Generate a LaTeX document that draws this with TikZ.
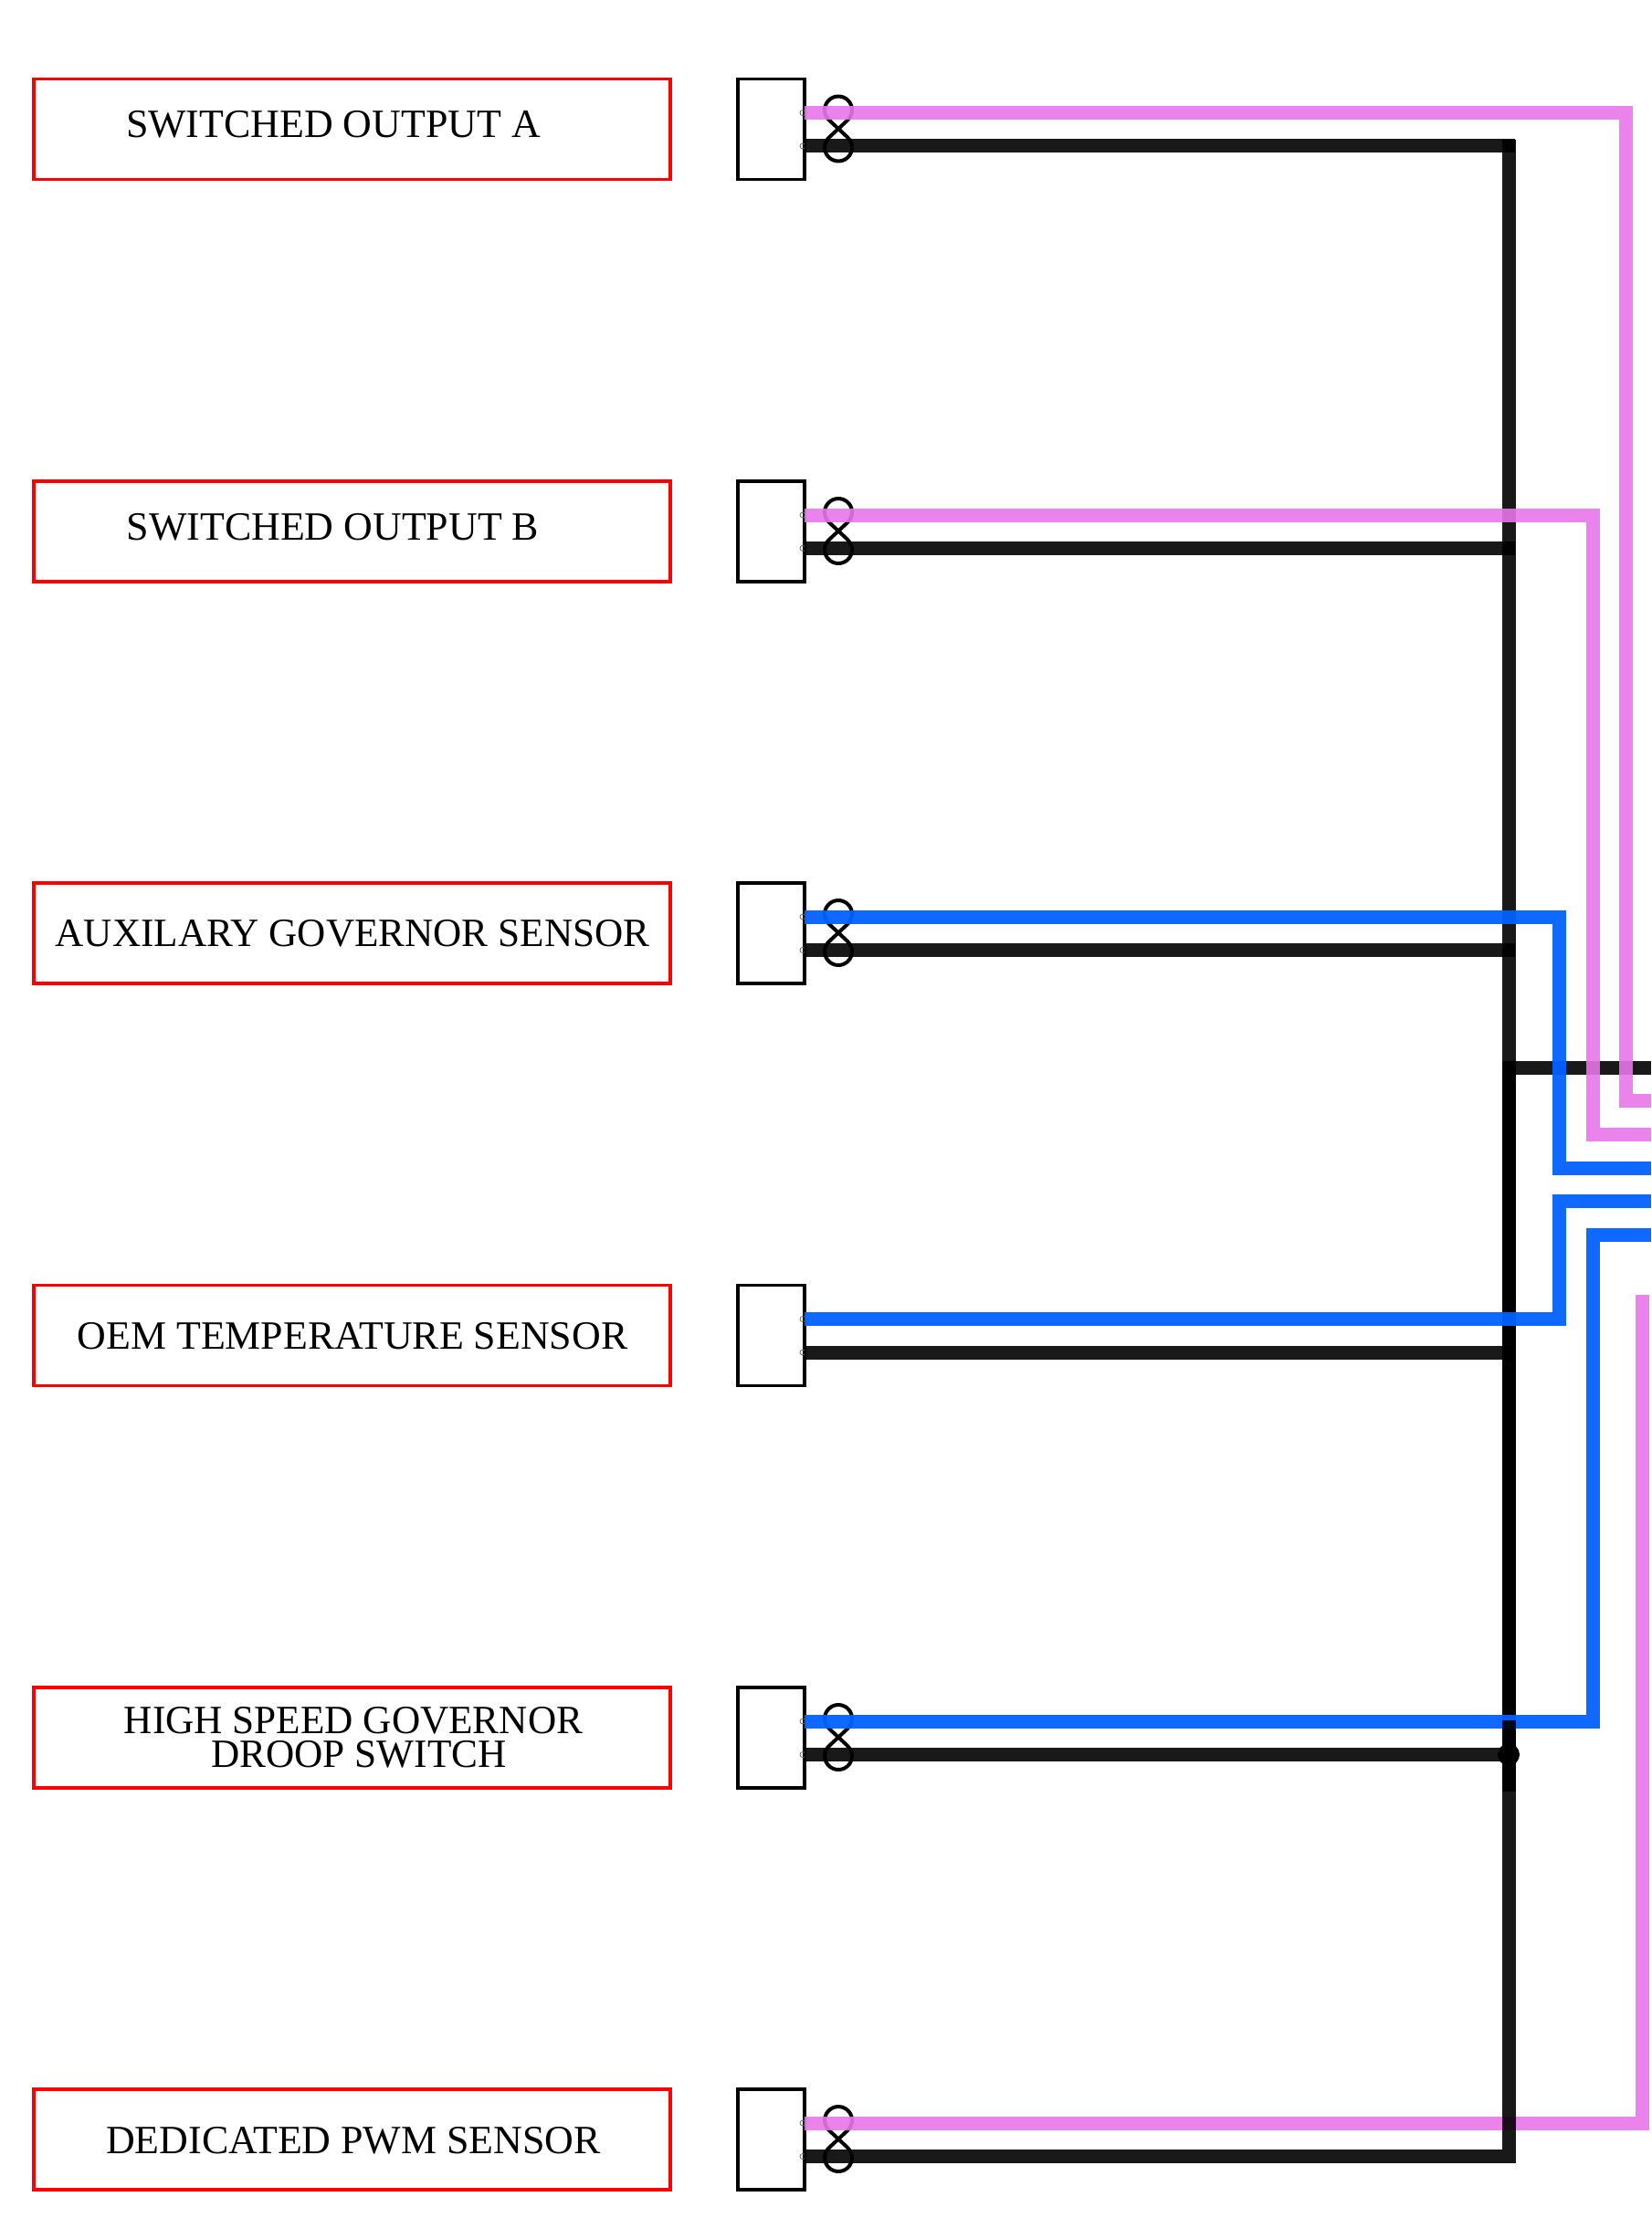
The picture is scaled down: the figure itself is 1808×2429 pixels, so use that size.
\documentclass[tikz,border=0pt]{standalone}
\usepackage{fontspec}
\setmainfont{Liberation Serif}
\usepackage{xcolor}
\usetikzlibrary{positioning}
\definecolor{wirepink}{RGB}{232,118,234}
\definecolor{wireblue}{RGB}{2,97,255}
\tikzset{
	labelbox/.style={draw=red, line width=3.5*0.02cm, minimum width=697*0.02cm, minimum height=110*0.02cm, anchor=north west, inner sep=0, outer sep=0},
	connbox/.style={draw=black, line width=3.5*0.02cm, minimum width=73*0.02cm, minimum height=110*0.02cm, anchor=north west, inner sep=0, outer sep=0},
	labeltext/.style={font=\fontsize{25}{21}\selectfont, align=center, inner sep=0},
	pinkwire/.style={draw=wirepink, draw opacity=0.9, line width=15*0.02cm},
	bluewire/.style={draw=wireblue, draw opacity=0.95, line width=15*0.02cm},
	blackwire/.style={draw=black, draw opacity=0.9, line width=15*0.02cm},
	twistline/.style={draw=black, line width=4*0.02cm},
	pinmark/.style={draw=black!60, line width=0.8*0.02cm}
}
\begin{document}
\begin{tikzpicture}[x=0.02cm, y=-0.02cm]
	\useasboundingbox (0, 0) rectangle (1808, 2429);
	% label boxes and connector bodies
	\foreach \n/\y in {1/86.5, 2/527, 3/967, 4/1407.5, 5/1848, 6/2288}{
		\node[labelbox] (lbl\n) at (37, \y) {};
		\node[connbox] (conn\n) at (808, \y) {};
		\coordinate (sig\n) at (881, \y+37);
		\coordinate (gnd\n) at (881, \y+73.5);
		\coordinate (busgnd\n) at (1659, \y+73.5);
		\draw[pinmark] (sig\n) ++(-2, 0) circle (3);
		\draw[pinmark] (gnd\n) ++(-2, 0) circle (3);
	}
	\node[labeltext] (txt1) at (365, 136) {SWITCHED OUTPUT A};
	\node[labeltext] (txt2) at (364.5, 577) {SWITCHED OUTPUT B};
	\node[labeltext, xscale=0.984] (txt3) at (386, 1022) {AUXILARY GOVERNOR SENSOR};
	\node[labeltext] (txt4) at (386, 1463) {OEM TEMPERATURE SENSOR};
	\node[labeltext, xscale=0.985] (txt5) at (387, 1903) {HIGH SPEED GOVERNOR\\\hspace*{7pt}DROOP SWITCH};
	\node[labeltext] (txt6) at (387, 2344) {DEDICATED PWM SENSOR};
	% twisted pairs
	\foreach \n/\y in {1/86.5, 2/527, 3/967, 5/1848, 6/2288}{
		\draw[twistline] (908.4, \y+45.5) arc[start angle=130, end angle=410, radius=15] -- (908.4, \y+63.5) arc[start angle=230, end angle=-50, radius=15] -- cycle;
	}
	% wire ends
	\coordinate (bustop) at (1652, 153);
	\coordinate (heavytop) at (1652, 1162);
	\coordinate (heavymid) at (1652, 1884);
	\coordinate (heavybottom) at (1652, 1962);
	\coordinate (busdot) at (1652, 1921.5);
	\coordinate (gndout) at (1808, 1169);
	\coordinate (pinkcornerA) at (1780, 1205);
	\coordinate (pinkoutA) at (1808, 1205);
	\coordinate (pinkcornerB) at (1744, 1242);
	\coordinate (pinkoutB) at (1808, 1242);
	\coordinate (bluecornerA) at (1707, 1279);
	\coordinate (blueoutA) at (1808, 1279);
	\coordinate (bluecornerB) at (1707, 1315);
	\coordinate (blueoutB) at (1808, 1315);
	\coordinate (bluecornerC) at (1744, 1352);
	\coordinate (blueoutC) at (1808, 1352);
	\coordinate (pinktop) at (1798, 1418);
	% this one runs under the common line
	\draw[pinkwire] (sig6) -| (pinktop);
	% ground wires
	\draw[blackwire] (gnd6) -| (bustop);
	\foreach \n in {1, 2, 3, 4, 5}{
		\draw[blackwire] (gnd\n) -- (busgnd\n);
	}
	\draw[blackwire] (heavytop) -- (heavymid);
	\draw[blackwire] (heavytop |- gndout) -- (gndout);
	% signal wires
	\draw[pinkwire] (sig1) -| (pinkcornerA) -- (pinkoutA);
	\draw[pinkwire] (sig2) -| (pinkcornerB) -- (pinkoutB);
	\draw[bluewire] (sig3) -| (bluecornerA) -- (blueoutA);
	\draw[bluewire] (sig4) -| (bluecornerB) -- (blueoutB);
	\draw[bluewire] (sig5) -| (bluecornerC) -- (blueoutC);
	\draw[blackwire] (heavymid) -- (heavybottom);
	\fill[black] (busdot) circle (12);
\end{tikzpicture}
\end{document}
